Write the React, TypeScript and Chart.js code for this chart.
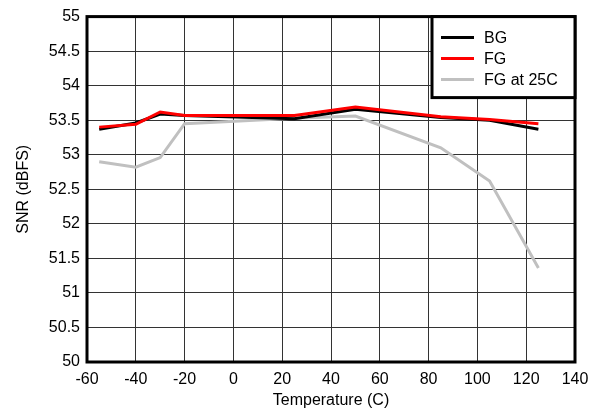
import React, { useEffect, useRef } from 'react';
import { Chart, registerables } from 'chart.js';

Chart.register(...registerables);

const temperatures = [-55, -40, -30, -20, 25, 50, 85, 105, 125];
const bgSnr = [53.37, 53.46, 53.59, 53.57, 53.52, 53.66, 53.54, 53.5, 53.37];
const fgSnr = [53.4, 53.44, 53.62, 53.57, 53.57, 53.69, 53.55, 53.51, 53.45];
const fg25Snr = [52.9, 52.82, 52.96, 53.45, 53.53, 53.56, 53.1, 52.62, 51.36];

const seriesNames = ['BG', 'FG', 'FG at 25C'];
const seriesColors = ['#000000', '#ff0000', '#c0c0c0'];

const xMin = -60;
const xMax = 140;
const xStep = 20;
const yMin = 50;
const yMax = 55;
const yStep = 0.5;

const FONT = '"Liberation Sans", Arial, sans-serif';

const fmt = (v: any) => String(parseFloat(Number(v).toFixed(1)));

const framePlugin = {
  id: 'frame',
  afterDatasetsDraw(chart: any) {
    const { ctx, chartArea } = chart;
    ctx.save();
    ctx.strokeStyle = '#000';
    ctx.lineWidth = 3;
    ctx.strokeRect(chartArea.left, chartArea.top, chartArea.right - chartArea.left, chartArea.bottom - chartArea.top);
    ctx.restore();
  },
};

const boxLegendPlugin = {
  id: 'boxLegend',
  afterDraw(chart: any) {
    const { ctx, chartArea } = chart;
    const right = chartArea.right;
    const top = chartArea.top;
    const w = 143;
    const h = 81;
    const left = right - w;
    ctx.save();
    ctx.fillStyle = '#fff';
    ctx.fillRect(left, top, w, h);
    ctx.strokeStyle = '#000';
    ctx.lineWidth = 3;
    ctx.strokeRect(left, top, w, h);
    ctx.font = `16px ${FONT}`;
    ctx.textBaseline = 'middle';
    ctx.textAlign = 'left';
    seriesNames.forEach((name, i) => {
      const y = top + 21 + i * 21;
      ctx.strokeStyle = seriesColors[i];
      ctx.lineWidth = 3;
      ctx.beginPath();
      ctx.moveTo(left + 9, y);
      ctx.lineTo(left + 42, y);
      ctx.stroke();
      ctx.fillStyle = '#000';
      ctx.fillText(name, left + 52, y + 1);
    });
    ctx.restore();
  },
};

export default function App() {
  const canvasRef = useRef<HTMLCanvasElement>(null);

  useEffect(() => {
    document.body.style.margin = '0';
    const canvas = canvasRef.current;
    if (!canvas) return;
    const seriesValues = [bgSnr, fgSnr, fg25Snr];
    const orders = [2, 1, 3];
    const chart = new Chart(canvas, {
      type: 'line',
      data: {
        datasets: seriesValues.map((vals, i) => ({
          label: seriesNames[i],
          data: temperatures.map((t, j) => ({ x: t, y: vals[j] })),
          borderColor: seriesColors[i],
          backgroundColor: seriesColors[i],
          borderWidth: 3,
          pointRadius: 0,
          tension: 0,
          order: orders[i],
        })),
      },
      options: {
        animation: false,
        responsive: false,
        devicePixelRatio: 1,
        layout: { padding: { top: 16, right: 25, left: 0, bottom: 0 } },
        plugins: {
          legend: { display: false },
          tooltip: { enabled: false },
        },
        scales: {
          x: {
            type: 'linear',
            min: xMin,
            max: xMax,
            ticks: {
              stepSize: xStep,
              color: '#000',
              font: { family: FONT, size: 16 },
              padding: 8,
              maxRotation: 0,
              callback: (v: any) => fmt(v),
            },
            grid: { color: '#333', lineWidth: 1, drawTicks: false },
            border: { display: false },
            title: {
              display: true,
              text: 'Temperature (C)',
              color: '#000',
              font: { family: FONT, size: 16 },
              padding: { top: 0, bottom: 2 },
            },
            afterFit(scale: any) {
              scale.height = 50;
            },
          },
          y: {
            type: 'linear',
            min: yMin,
            max: yMax,
            ticks: {
              stepSize: yStep,
              color: '#000',
              font: { family: FONT, size: 16 },
              padding: 7,
              callback: (v: any) => fmt(v),
            },
            grid: { color: '#333', lineWidth: 1, drawTicks: false },
            border: { display: false },
            title: {
              display: true,
              text: 'SNR (dBFS)',
              color: '#000',
              font: { family: FONT, size: 16 },
              padding: { top: 14, bottom: 0 },
            },
            afterFit(scale: any) {
              scale.width = 87;
            },
          },
        },
      },
      plugins: [framePlugin, boxLegendPlugin],
    });
    return () => chart.destroy();
  }, []);

  return (
    <div style={{ width: 600, height: 412 }}>
      <canvas ref={canvasRef} width={600} height={412} style={{ display: 'block', width: 600, height: 412 }} />
    </div>
  );
}
